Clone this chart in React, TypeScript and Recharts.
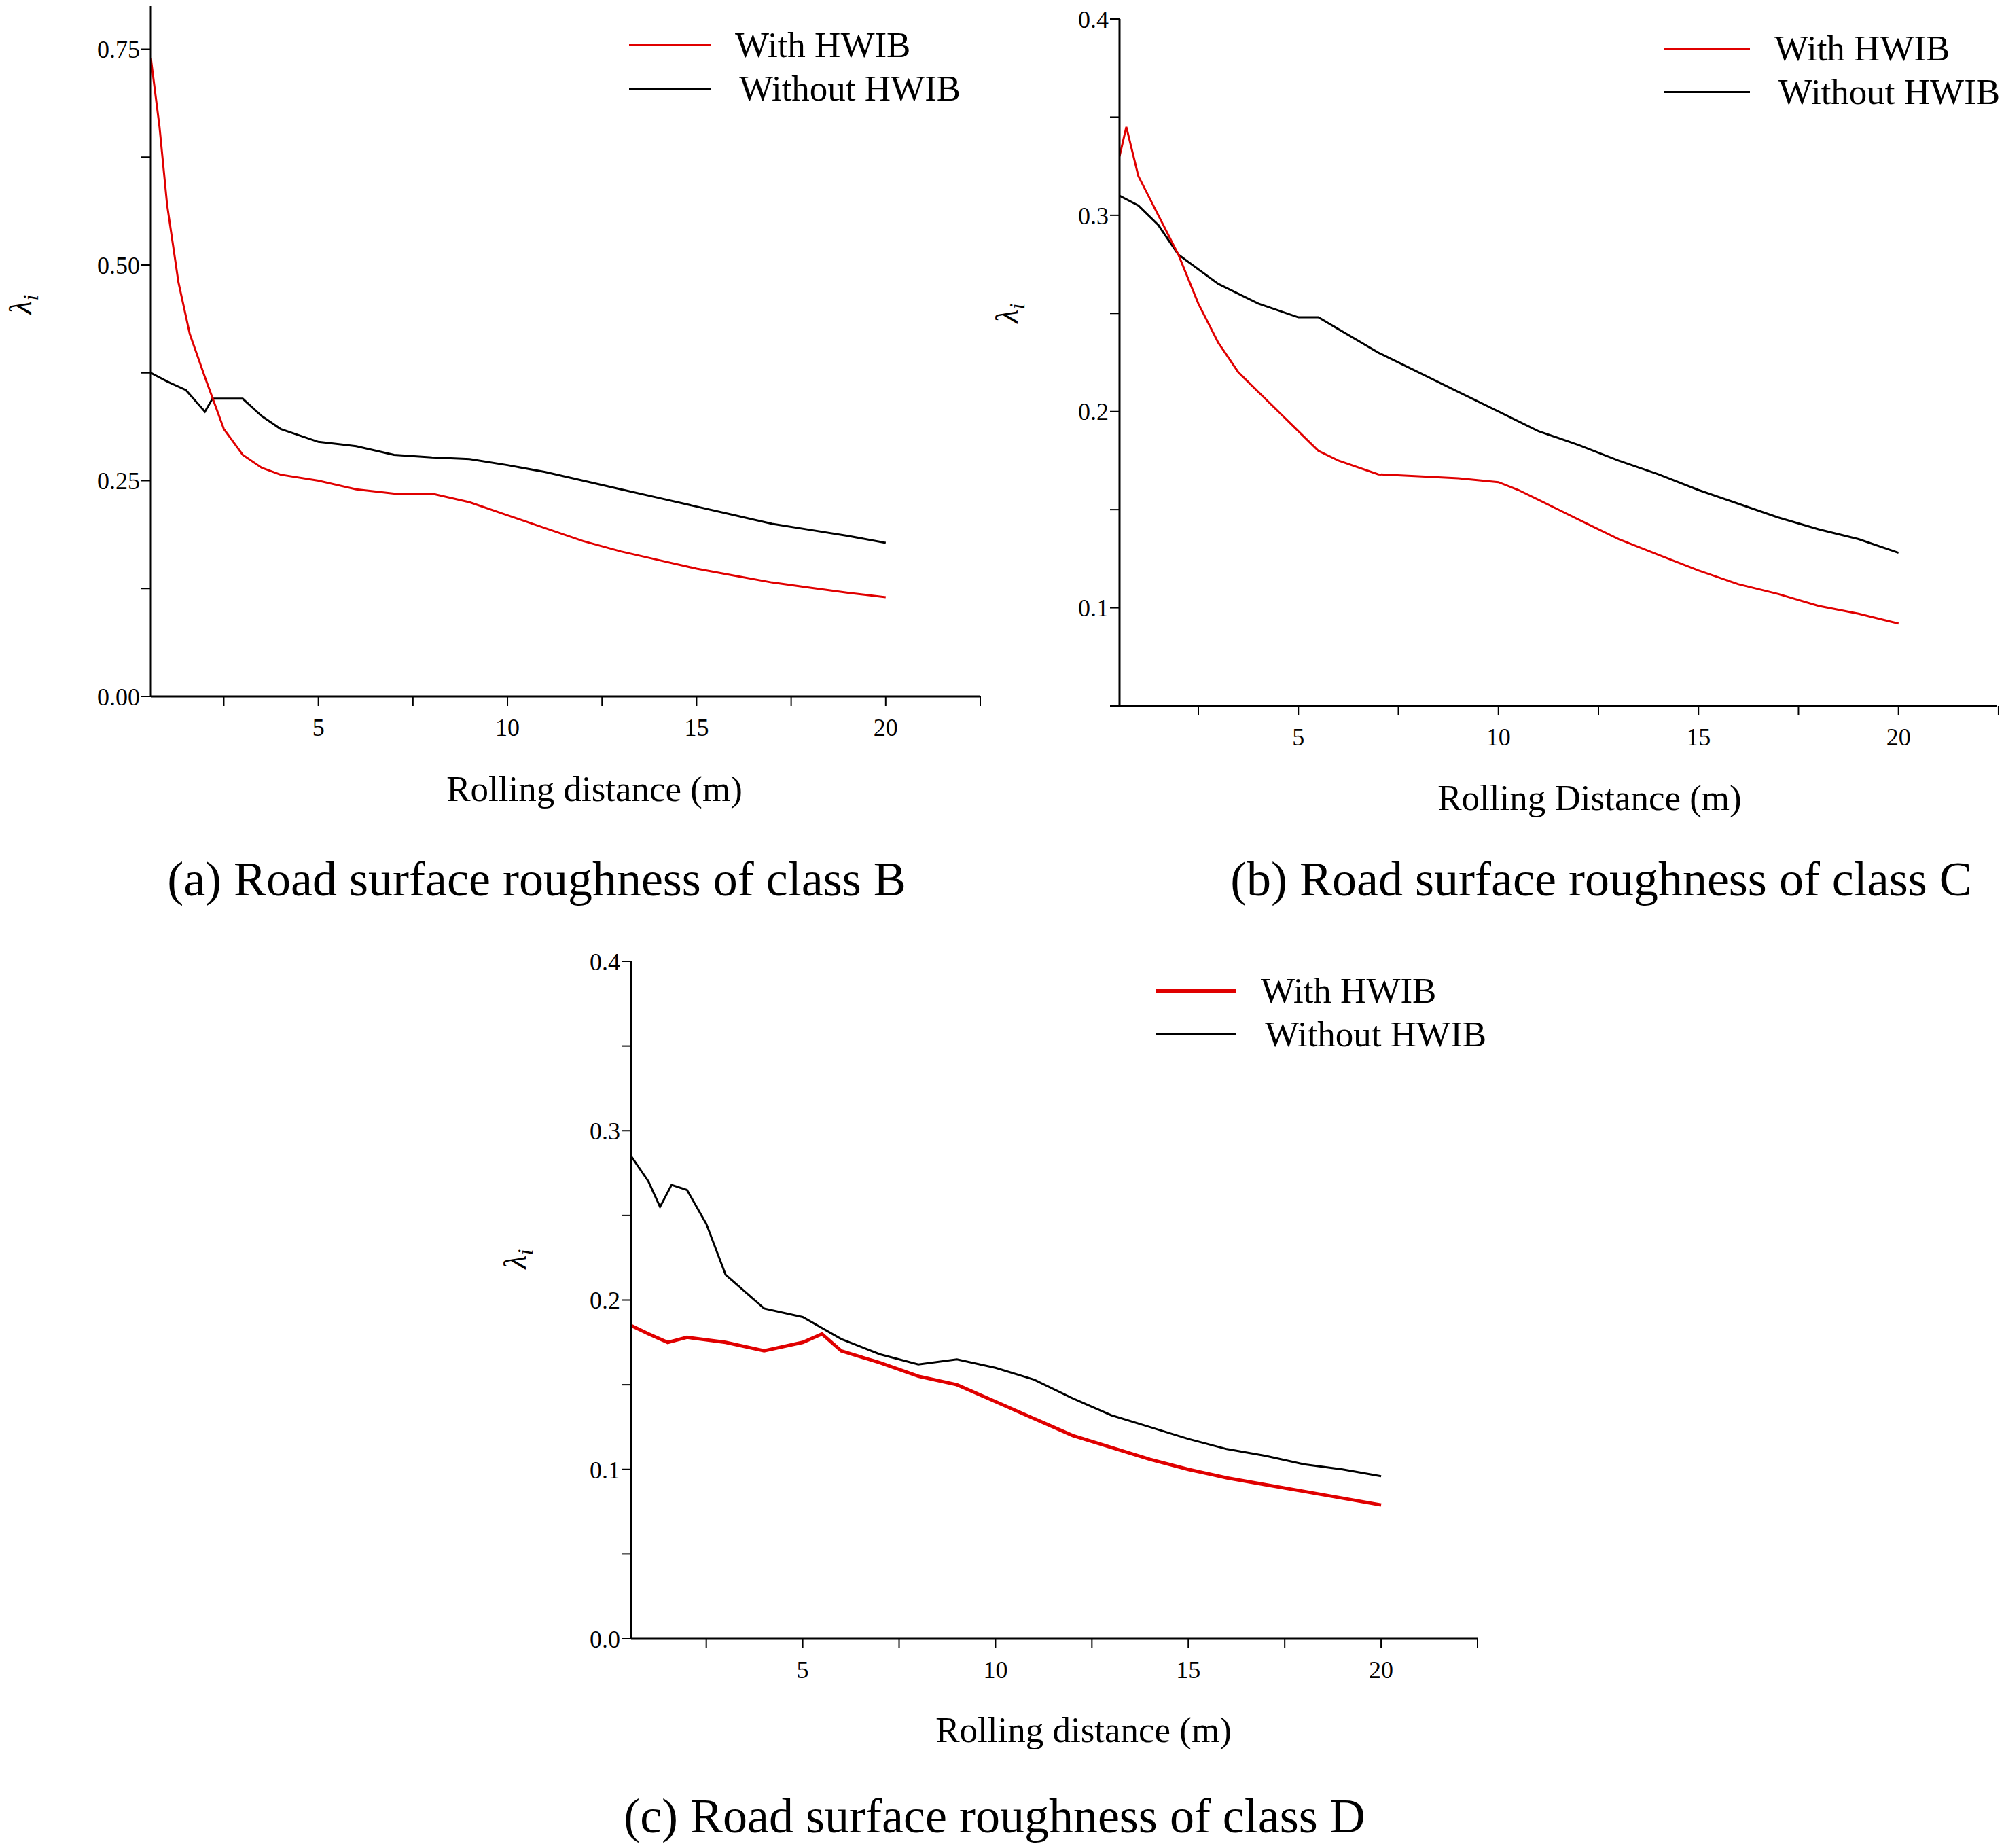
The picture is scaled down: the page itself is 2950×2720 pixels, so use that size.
import { LineChart, Line, XAxis, YAxis } from "recharts";

const seriesNames = ["With HWIB", "Without HWIB"];

const aRedX = [0.57, 0.8, 1, 1.3, 1.6, 2, 2.5, 3, 3.5, 4, 5, 6, 7, 8, 9, 10, 11, 12, 13, 14, 15, 16, 17, 18, 19, 20];
const aRedY = [0.74, 0.66, 0.57, 0.48, 0.42, 0.37, 0.31, 0.28, 0.265, 0.257, 0.25, 0.24, 0.235, 0.235, 0.225, 0.21, 0.195, 0.18, 0.168, 0.158, 0.148, 0.14, 0.132, 0.126, 0.12, 0.115];
const aBlackX = [0.57, 1, 1.5, 2, 2.2, 3, 3.5, 4, 5, 6, 7, 8, 9, 10, 11, 12, 13, 14, 15, 16, 17, 18, 19, 20];
const aBlackY = [0.375, 0.365, 0.355, 0.33, 0.345, 0.345, 0.325, 0.31, 0.295, 0.29, 0.28, 0.277, 0.275, 0.268, 0.26, 0.25, 0.24, 0.23, 0.22, 0.21, 0.2, 0.193, 0.186, 0.178];

const bRedX = [0.53, 0.7, 1, 1.5, 2, 2.5, 3, 3.5, 4, 4.5, 5, 5.5, 6, 7, 8, 9, 10, 10.5, 11, 12, 13, 14, 15, 16, 17, 18, 19, 20];
const bRedY = [0.33, 0.345, 0.32, 0.3, 0.28, 0.255, 0.235, 0.22, 0.21, 0.2, 0.19, 0.18, 0.175, 0.168, 0.167, 0.166, 0.164, 0.16, 0.155, 0.145, 0.135, 0.127, 0.119, 0.112, 0.107, 0.101, 0.097, 0.092];
const bBlackX = [0.53, 1, 1.5, 2, 3, 4, 5, 5.5, 6, 7, 8, 9, 10, 11, 12, 13, 14, 15, 16, 17, 18, 19, 20];
const bBlackY = [0.31, 0.305, 0.295, 0.28, 0.265, 0.255, 0.248, 0.248, 0.242, 0.23, 0.22, 0.21, 0.2, 0.19, 0.183, 0.175, 0.168, 0.16, 0.153, 0.146, 0.14, 0.135, 0.128];

const cRedX = [0.55, 1, 1.5, 2, 3, 4, 5, 5.5, 6, 7, 8, 9, 10, 11, 12, 13, 14, 15, 16, 17, 18, 19, 20];
const cRedY = [0.185, 0.18, 0.175, 0.178, 0.175, 0.17, 0.175, 0.18, 0.17, 0.163, 0.155, 0.15, 0.14, 0.13, 0.12, 0.113, 0.106, 0.1, 0.095, 0.091, 0.087, 0.083, 0.079];
const cBlackX = [0.55, 1, 1.3, 1.6, 2, 2.5, 3, 4, 5, 6, 7, 8, 9, 10, 11, 12, 13, 14, 15, 16, 17, 18, 19, 20];
const cBlackY = [0.285, 0.27, 0.255, 0.268, 0.265, 0.245, 0.215, 0.195, 0.19, 0.177, 0.168, 0.162, 0.165, 0.16, 0.153, 0.142, 0.132, 0.125, 0.118, 0.112, 0.108, 0.103, 0.1, 0.096];

const xTicks = [2.5, 5, 7.5, 10, 12.5, 15, 17.5, 20, 22.5];
const xMajor = [5, 10, 15, 20];
const aYTicks = [0, 0.125, 0.25, 0.375, 0.5, 0.625, 0.75];
const aYMajor = [0, 0.25, 0.5, 0.75];
const bYTicks = [0.05, 0.1, 0.15, 0.2, 0.25, 0.3, 0.35, 0.4];
const bYMajor = [0.1, 0.2, 0.3, 0.4];
const cYTicks = [0, 0.05, 0.1, 0.15, 0.2, 0.25, 0.3, 0.35, 0.4];
const cYMajor = [0, 0.1, 0.2, 0.3, 0.4];

const FONT = "'Liberation Serif', 'Times New Roman', serif";
const toPts = (xs: number[], ys: number[]) => xs.map((x, i) => ({ x, y: ys[i] }));

type PanelProps = {
  left: number; top: number; right: number; bottom: number;
  xDomain: [number, number]; yDomain: [number, number];
  yTicks: number[]; yMajor: number[]; digits: number;
  red: { x: number; y: number }[]; black: { x: number; y: number }[];
  redWidth?: number;
};

function Panel(p: PanelProps) {
  const ml = 50, yw = 110, mt = 20, mr = 20, xh = 90, mb = 20;
  const w = p.right - p.left + ml + yw + mr;
  const h = p.bottom - p.top + mt + xh + mb;
  const near = (arr: number[], v: number) => arr.some((m) => Math.abs(m - v) < 1e-6);
  return (
    <div style={{ position: "absolute", left: p.left - ml - yw, top: p.top - mt }}>
      <LineChart width={w} height={h} margin={{ left: ml, top: mt, right: mr, bottom: mb }}>
        <XAxis type="number" dataKey="x" domain={p.xDomain} ticks={xTicks} allowDataOverflow
          height={xh} tickSize={14} interval={0}
          axisLine={{ stroke: "#000", strokeWidth: 3 }} tickLine={{ stroke: "#000", strokeWidth: 2 }}
          tick={{ fill: "#000", fontSize: 36, fontFamily: FONT, dy: 16 }}
          tickFormatter={(v: number) => (near(xMajor, v) ? String(v) : "")} />
        <YAxis type="number" dataKey="y" domain={p.yDomain} ticks={p.yTicks} allowDataOverflow
          width={yw} tickSize={14} interval={0}
          axisLine={{ stroke: "#000", strokeWidth: 3 }} tickLine={{ stroke: "#000", strokeWidth: 2 }}
          tick={{ fill: "#000", fontSize: 36, fontFamily: FONT }}
          tickFormatter={(v: number) => (near(p.yMajor, v) ? v.toFixed(p.digits) : "")} />
        <Line data={p.black} dataKey="y" stroke="#000" strokeWidth={3} dot={false} isAnimationActive={false} />
        <Line data={p.red} dataKey="y" stroke="#e00000" strokeWidth={p.redWidth ?? 3} dot={false} isAnimationActive={false} />
      </LineChart>
    </div>
  );
}

function Legend({ x, y, tx, redW }: { x: number; y: number; tx: number; redW?: number }) {
  const colors = ["#e00000", "#000"];
  return (
    <>
      {seriesNames.map((n, i) => {
        const lw = i === 0 ? redW ?? 3 : 3;
        return (
          <div key={n}>
            <div style={{ position: "absolute", left: x, top: y + i * 64 - lw / 2, width: tx - x - 36, height: lw, background: colors[i] }} />
            <div style={{ position: "absolute", left: tx + i * 6, top: y + i * 64 - 32, fontSize: 53, fontFamily: FONT, lineHeight: "64px" }}>{n}</div>
          </div>
        );
      })}
    </>
  );
}

function Text({ x, y, size, children, rot }: { x: number; y: number; size: number; children: any; rot?: boolean }) {
  return (
    <div style={{ position: "absolute", left: x, top: y, transform: `translate(-50%, -50%)${rot ? " rotate(-90deg)" : ""}`,
      fontSize: size, fontFamily: FONT, whiteSpace: "nowrap" }}>{children}</div>
  );
}

const lam = <span style={{ fontStyle: "italic" }}>λ<sub style={{ fontSize: "0.7em" }}>i</sub></span>;

export default function App() {
  return (
    <div style={{ position: "absolute", left: 0, top: 0, width: 2950, height: 2720, background: "#fff" }}>
      <Panel left={222} top={9} right={1443} bottom={1025} xDomain={[0.57, 22.5]} yDomain={[0, 0.8]}
        yTicks={aYTicks} yMajor={aYMajor} digits={2} red={toPts(aRedX, aRedY)} black={toPts(aBlackX, aBlackY)} />
      <Panel left={1648} top={28} right={2939} bottom={1039} xDomain={[0.53, 22.45]} yDomain={[0.05, 0.4]}
        yTicks={bYTicks} yMajor={bYMajor} digits={1} red={toPts(bRedX, bRedY)} black={toPts(bBlackX, bBlackY)} />
      <Panel left={929} top={1415} right={2175} bottom={2412} xDomain={[0.55, 22.5]} yDomain={[0, 0.4]}
        yTicks={cYTicks} yMajor={cYMajor} digits={1} red={toPts(cRedX, cRedY)} black={toPts(cBlackX, cBlackY)} redWidth={5} />

      <Legend x={926} y={66} tx={1082} />
      <Legend x={2450} y={71} tx={2612} />
      <Legend x={1701} y={1458} tx={1856} redW={5} />

      <Text x={34} y={448} size={46} rot>{lam}</Text>
      <Text x={1486} y={461} size={46} rot>{lam}</Text>
      <Text x={762} y={1853} size={46} rot>{lam}</Text>

      <Text x={875} y={1161} size={53}>Rolling distance (m)</Text>
      <Text x={2340} y={1174} size={53}>Rolling Distance (m)</Text>
      <Text x={1595} y={2546} size={53}>Rolling distance (m)</Text>

      <Text x={790} y={1294} size={72}>(a) Road surface roughness of class B</Text>
      <Text x={2357} y={1294} size={72}>(b) Road surface roughness of class C</Text>
      <Text x={1464} y={2673} size={72}>(c) Road surface roughness of class D</Text>
    </div>
  );
}
